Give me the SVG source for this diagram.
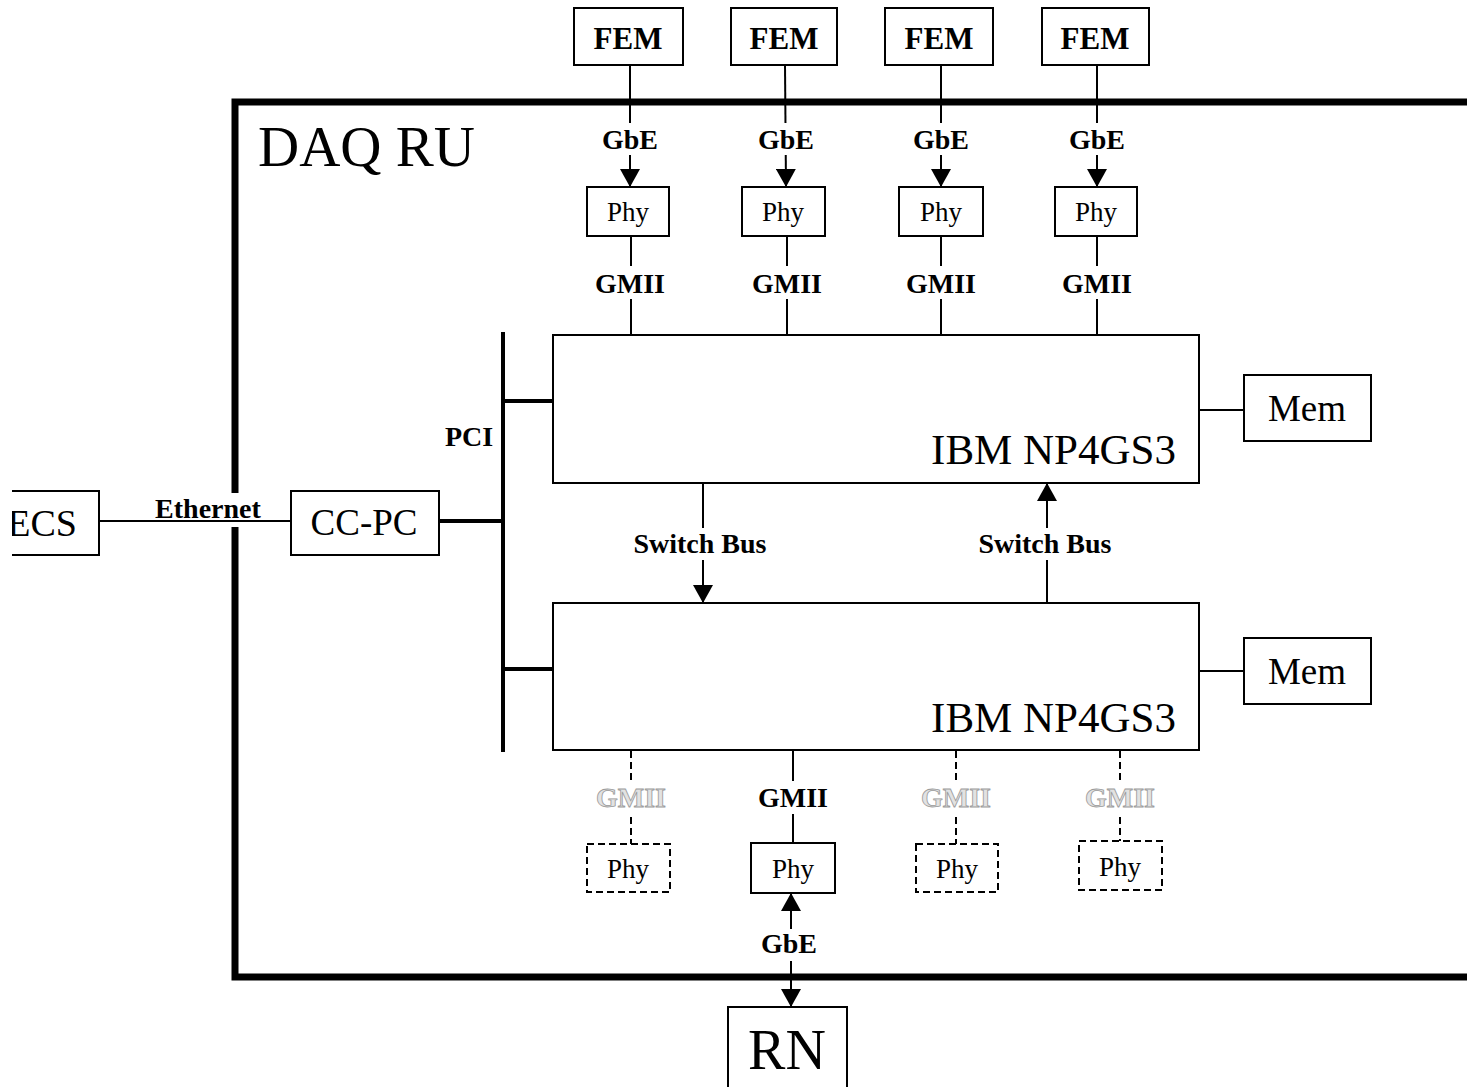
<svg xmlns="http://www.w3.org/2000/svg" width="1467" height="1087" viewBox="0 0 1467 1087">
<style>
.box{fill:#fff;stroke:#000;stroke-width:2}
.dbox{fill:#fff;stroke:#000;stroke-width:2;stroke-dasharray:7 4}
.ln{stroke:#000;stroke-width:2;fill:none}
.dln{stroke:#000;stroke-width:2;fill:none;stroke-dasharray:7 4}
.thick{stroke:#000;stroke-width:4;fill:none}
.frame{stroke:#000;stroke-width:7;fill:none}
.bg{fill:#fff}
text{font-family:"Liberation Serif","Times New Roman",serif;fill:#000}
.lbl{font-size:28px;font-weight:bold;text-anchor:middle}
.ghost{font-size:28px;font-weight:bold;text-anchor:middle;fill:#e2e2e2;stroke:#9a9a9a;stroke-width:0.8}
.fem{font-size:31px;font-weight:bold;text-anchor:middle}
.phy{font-size:27px;text-anchor:middle}
.big{font-size:37px;text-anchor:middle}
.np{font-size:43px;text-anchor:end}
</style>
<defs>
<marker id="ah" viewBox="0 0 18 20" refX="18" refY="10" markerWidth="18" markerHeight="20" markerUnits="userSpaceOnUse" orient="auto">
<path d="M0,0 L18,10 L0,20 z" fill="#000"/>
</marker>
<clipPath id="clipL"><rect x="12" y="0" width="1455" height="1087"/></clipPath>
</defs>
<rect width="1467" height="1087" fill="#fff"/>

<g id="daq-ru">
<path class="frame" d="M1467,102 H235 V977 H1467"/>
<text x="258" y="166" style="font-size:57px">DAQ RU</text>
</g>

<g id="connectors">
<line class="ln" x1="630" y1="65" x2="630" y2="187" marker-end="url(#ah)"/>
<line class="ln" x1="785" y1="65" x2="786" y2="187" marker-end="url(#ah)"/>
<line class="ln" x1="941" y1="65" x2="941" y2="187" marker-end="url(#ah)"/>
<line class="ln" x1="1097" y1="65" x2="1097" y2="187" marker-end="url(#ah)"/>
<line class="ln" x1="631" y1="237" x2="631" y2="335"/>
<line class="ln" x1="787" y1="237" x2="787" y2="335"/>
<line class="ln" x1="941" y1="237" x2="941" y2="335"/>
<line class="ln" x1="1097" y1="237" x2="1097" y2="335"/>
<line class="ln" x1="1199" y1="410" x2="1244" y2="410"/>
<line class="ln" x1="1199" y1="671" x2="1244" y2="671"/>
<line class="thick" x1="503" y1="332" x2="503" y2="752"/>
<line class="thick" x1="503" y1="401" x2="553" y2="401"/>
<line class="thick" x1="439" y1="521" x2="503" y2="521"/>
<line class="thick" x1="503" y1="669" x2="553" y2="669"/>
<line class="ln" x1="703" y1="483" x2="703" y2="603" marker-end="url(#ah)"/>
<line class="ln" x1="1047" y1="603" x2="1047" y2="483" marker-end="url(#ah)"/>
<line class="dln" x1="631" y1="751" x2="631" y2="844"/>
<line class="ln" x1="793" y1="750" x2="793" y2="843"/>
<line class="dln" x1="956" y1="751" x2="956" y2="844"/>
<line class="dln" x1="1120" y1="751" x2="1120" y2="841"/>
<line class="ln" x1="791" y1="945" x2="791" y2="893" marker-end="url(#ah)"/>
<line class="ln" x1="791" y1="945" x2="791" y2="1007" marker-end="url(#ah)"/>
<rect class="bg" x="150" y="493" width="116" height="34"/>
<line class="ln" x1="99" y1="521" x2="291" y2="521"/>
<rect class="bg" x="598" y="123" width="64" height="32"/>
<rect class="bg" x="754" y="123" width="64" height="32"/>
<rect class="bg" x="909" y="123" width="64" height="32"/>
<rect class="bg" x="1065" y="123" width="64" height="32"/>
<rect class="bg" x="591" y="266" width="78" height="33"/>
<rect class="bg" x="748" y="266" width="78" height="33"/>
<rect class="bg" x="902" y="266" width="78" height="33"/>
<rect class="bg" x="1058" y="266" width="78" height="33"/>
<rect class="bg" x="630" y="528" width="142" height="32"/>
<rect class="bg" x="974" y="528" width="142" height="32"/>
<rect class="bg" x="592" y="781" width="78" height="33"/>
<rect class="bg" x="754" y="781" width="78" height="33"/>
<rect class="bg" x="917" y="781" width="78" height="33"/>
<rect class="bg" x="1081" y="781" width="78" height="33"/>
<rect class="bg" x="757" y="929" width="64" height="32"/>
<text class="lbl" x="630" y="149">GbE</text>
<text class="lbl" x="786" y="149">GbE</text>
<text class="lbl" x="941" y="149">GbE</text>
<text class="lbl" x="1097" y="149">GbE</text>
<text class="lbl" x="630" y="293">GMII</text>
<text class="lbl" x="787" y="293">GMII</text>
<text class="lbl" x="941" y="293">GMII</text>
<text class="lbl" x="1097" y="293">GMII</text>
<text class="lbl" x="469" y="446">PCI</text>
<text class="lbl" x="208" y="518">Ethernet</text>
<text class="lbl" x="700" y="553">Switch Bus</text>
<text class="lbl" x="1045" y="553">Switch Bus</text>
<text class="ghost" x="631" y="807">GMII</text>
<text class="lbl" x="793" y="807">GMII</text>
<text class="ghost" x="956" y="807">GMII</text>
<text class="ghost" x="1120" y="807">GMII</text>
<text class="lbl" x="789" y="953">GbE</text>
</g>

<g id="fem1"><rect class="box" x="574" y="8" width="109" height="57"/><text class="fem" x="628" y="49">FEM</text></g>
<g id="fem2"><rect class="box" x="731" y="8" width="106" height="57"/><text class="fem" x="784" y="49">FEM</text></g>
<g id="fem3"><rect class="box" x="885" y="8" width="108" height="57"/><text class="fem" x="939" y="49">FEM</text></g>
<g id="fem4"><rect class="box" x="1042" y="8" width="107" height="57"/><text class="fem" x="1095" y="49">FEM</text></g>

<g id="phy-in1"><rect class="box" x="587" y="187" width="82" height="49"/><text class="phy" x="628" y="221">Phy</text></g>
<g id="phy-in2"><rect class="box" x="742" y="187" width="83" height="49"/><text class="phy" x="783" y="221">Phy</text></g>
<g id="phy-in3"><rect class="box" x="899" y="187" width="84" height="49"/><text class="phy" x="941" y="221">Phy</text></g>
<g id="phy-in4"><rect class="box" x="1055" y="187" width="82" height="49"/><text class="phy" x="1096" y="221">Phy</text></g>

<g id="np1"><rect class="box" x="553" y="335" width="646" height="148"/><text class="np" x="1176" y="464">IBM NP4GS3</text></g>
<g id="np2"><rect class="box" x="553" y="603" width="646" height="147"/><text class="np" x="1176" y="732">IBM NP4GS3</text></g>

<g id="mem1"><rect class="box" x="1244" y="375" width="127" height="66"/><text class="big" x="1307" y="421">Mem</text></g>
<g id="mem2"><rect class="box" x="1244" y="638" width="127" height="66"/><text class="big" x="1307" y="684">Mem</text></g>

<g id="ccpc"><rect class="box" x="291" y="491" width="148" height="64"/><text class="big" x="364" y="535">CC-PC</text></g>

<g id="ecs" clip-path="url(#clipL)"><rect class="box" x="-20" y="491" width="119" height="64"/><text x="77" y="536" style="font-size:38px;text-anchor:end">ECS</text></g>

<g id="phy-out1"><rect class="dbox" x="587" y="844" width="83" height="48"/><text class="phy" x="628" y="878">Phy</text></g>
<g id="phy-out2"><rect class="box" x="751" y="843" width="84" height="50"/><text class="phy" x="793" y="878">Phy</text></g>
<g id="phy-out3"><rect class="dbox" x="916" y="844" width="82" height="48"/><text class="phy" x="957" y="878">Phy</text></g>
<g id="phy-out4"><rect class="dbox" x="1079" y="841" width="83" height="49"/><text class="phy" x="1120" y="876">Phy</text></g>

<g id="rn"><rect class="box" x="728" y="1007" width="119" height="95"/><text x="787" y="1069" style="font-size:56px;text-anchor:middle">RN</text></g>
</svg>
